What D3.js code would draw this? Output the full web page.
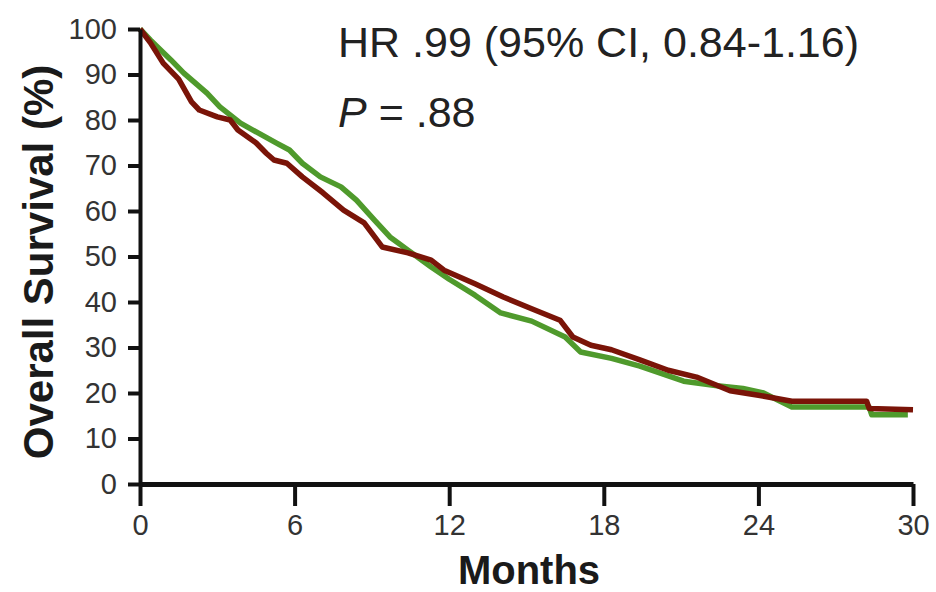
<!DOCTYPE html>
<html>
<head>
<meta charset="utf-8">
<script src="https://cdn.jsdelivr.net/npm/d3@7"></script>
<style>
  html, body { margin: 0; padding: 0; background: #fff; }
  svg { display: block; font-family: "Liberation Sans", Arial, sans-serif; }
</style>
</head>
<body>
<svg id="chart" width="936" height="592"></svg>
<script>
// ---- data ----
const xTicks = [0, 6, 12, 18, 24, 30];
const yTicks = [0, 10, 20, 30, 40, 50, 60, 70, 80, 90, 100];

const greenMonths = [0, 0.4, 1.2, 1.7, 2.6, 3.1, 3.9, 4.6, 5.3, 5.8, 6.3, 7.0, 7.8, 8.4, 9.1, 9.7, 10.4, 11.3, 12.0, 13.0, 14.0, 15.2, 16.5, 17.1, 18.3, 19.4, 21.1, 22.4, 23.4, 24.2, 25.3, 28.3, 28.4, 29.8];
const greenSurv   = [100, 97.6, 93.2, 90.3, 85.9, 82.9, 79.3, 77.1, 74.9, 73.4, 70.5, 67.5, 65.3, 62.4, 58.0, 54.3, 51.4, 47.7, 45.0, 41.5, 37.6, 35.8, 32.3, 29.0, 27.6, 25.9, 22.6, 21.6, 21.0, 20.0, 16.9, 16.9, 15.2, 15.2];

const redMonths = [0, 0.4, 0.9, 1.5, 2.0, 2.3, 3.0, 3.5, 3.8, 4.5, 4.9, 5.2, 5.7, 6.3, 7.1, 7.9, 8.7, 9.4, 10.4, 11.3, 11.8, 13.0, 14.1, 15.2, 16.3, 16.8, 17.5, 18.3, 19.4, 20.5, 21.6, 22.9, 24.0, 25.3, 28.2, 28.3, 30.0];
const redSurv   = [100, 97.0, 92.5, 89.0, 84.0, 82.2, 80.7, 80.0, 77.8, 75.0, 72.7, 71.2, 70.5, 67.5, 64.0, 60.2, 57.4, 52.1, 50.8, 49.2, 47.0, 44.0, 41.1, 38.5, 36.0, 32.3, 30.5, 29.5, 27.3, 25.0, 23.5, 20.5, 19.5, 18.2, 18.2, 16.6, 16.3];

const hrText = "HR .99 (95% CI, 0.84-1.16)";
const pText = " = .88";
const xTitle = "Months";
const yTitle = "Overall Survival (%)";

// ---- layout ----
const svg = d3.select("#chart");
const x = d3.scaleLinear().domain([0, 30]).range([140, 913]);
const y = d3.scaleLinear().domain([0, 100]).range([484, 29]);

// curves
const line = d3.line().x(d => x(d[0])).y(d => y(d[1])).curve(d3.curveLinear);
const green = greenMonths.map((m, i) => [m, greenSurv[i]]);
const red = redMonths.map((m, i) => [m, redSurv[i]]);

svg.append("path").datum(green)
  .attr("d", line).attr("fill", "none")
  .attr("stroke", "#4f9a2c").attr("stroke-width", 5.5)
  .attr("stroke-linejoin", "round");
svg.append("path").datum(red)
  .attr("d", line).attr("fill", "none")
  .attr("stroke", "#7a1408").attr("stroke-width", 5.5)
  .attr("stroke-linejoin", "round");

// axes
const yAxis = svg.append("g").attr("transform", "translate(140,0)")
  .call(d3.axisLeft(y).tickValues(yTicks).tickSize(12).tickSizeOuter(0).tickPadding(11));
const xAxis = svg.append("g").attr("transform", "translate(0,484)")
  .call(d3.axisBottom(x).tickValues(xTicks).tickSize(22).tickSizeOuter(0).tickPadding(8));

yAxis.select(".domain").attr("stroke", "#111").attr("stroke-width", 4);
xAxis.select(".domain").attr("stroke", "#111").attr("stroke-width", 5);
yAxis.selectAll(".tick line").attr("stroke", "#111").attr("stroke-width", 4);
xAxis.selectAll(".tick line").attr("stroke", "#111").attr("stroke-width", 4);
yAxis.selectAll(".tick text").attr("fill", "#333").attr("font-size", 29)
  .attr("font-family", "Liberation Sans, Arial, sans-serif");
xAxis.selectAll(".tick text").attr("fill", "#333").attr("font-size", 29)
  .attr("font-family", "Liberation Sans, Arial, sans-serif");

// axis titles
svg.append("text").attr("x", 529).attr("y", 584)
  .attr("text-anchor", "middle").attr("font-size", 40).attr("font-weight", "bold")
  .attr("fill", "#1a1a1a").text(xTitle);
svg.append("text").attr("transform", "translate(53,262) rotate(-90)")
  .attr("text-anchor", "middle").attr("font-size", 42).attr("font-weight", "bold")
  .attr("fill", "#1a1a1a").text(yTitle);

// annotations
svg.append("text").attr("x", 338).attr("y", 57)
  .attr("font-size", 43).attr("fill", "#222").text(hrText);
const p = svg.append("text").attr("x", 338).attr("y", 127)
  .attr("font-size", 43).attr("fill", "#222");
p.append("tspan").attr("font-style", "italic").text("P");
p.append("tspan").text(pText);
</script>
</body>
</html>
